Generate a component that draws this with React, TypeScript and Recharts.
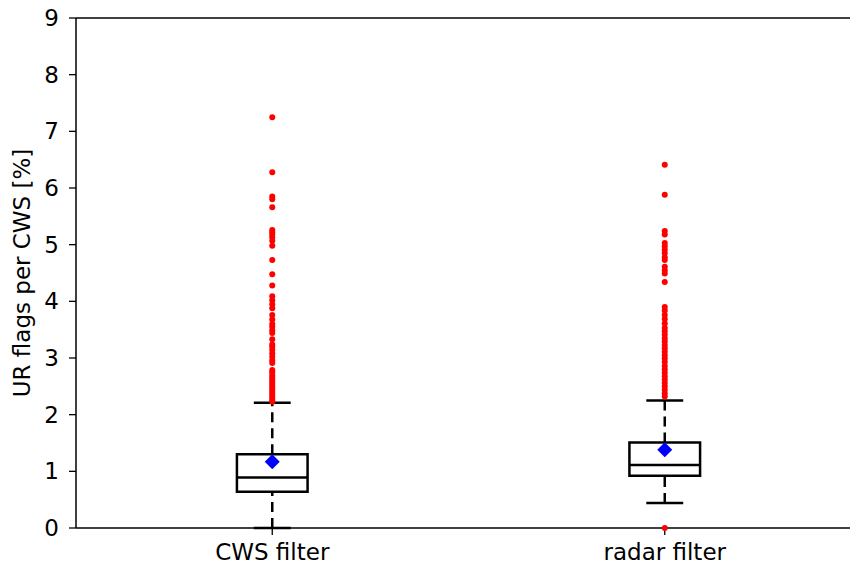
import {
  ComposedChart, XAxis, YAxis, Scatter, ReferenceArea, ReferenceLine,
} from 'recharts';

// box statistics per filter
const categories = ['CWS filter', 'radar filter'];
const positions = [1, 2];
const whiskerLow = [0, 0.44];
const q1 = [0.64, 0.92];
const medians = [0.89, 1.11];
const q3 = [1.3, 1.51];
const whiskerHigh = [2.21, 2.25];
const means = [1.17, 1.38];

const cwsOutliers = [
  7.25, 6.28, 5.85, 5.8, 5.66, 5.26, 5.22, 5.18, 5.13, 5.07, 4.98, 4.73, 4.48,
  4.28, 4.09, 4.02, 3.95, 3.88, 3.76, 3.68, 3.6, 3.55, 3.49, 3.44, 3.33, 3.24,
  3.2, 3.14, 3.08, 3.02, 2.96, 2.91, 2.79, 2.75, 2.7, 2.66, 2.62, 2.58, 2.54,
  2.5, 2.46, 2.42, 2.38, 2.34, 2.3, 2.26, 2.23,
];
const radarOutliers = [
  6.41, 5.88, 5.24, 5.18, 5.03, 4.97, 4.91, 4.85, 4.78, 4.73, 4.61, 4.55, 4.49,
  4.34, 3.9, 3.84, 3.76, 3.69, 3.61, 3.53, 3.47, 3.41, 3.35, 3.29, 3.23, 3.17,
  3.11, 3.05, 2.99, 2.93, 2.86, 2.8, 2.74, 2.68, 2.62, 2.56, 2.5, 2.44, 2.38,
  2.32, 0,
];

const yTicks = [0, 1, 2, 3, 4, 5, 6, 7, 8, 9];

const BOX_HALF = 0.09;
const CAP_HALF = 0.047;
const FONT = '"DejaVu Sans", sans-serif';
const FONT_SIZE = 23;

const outlierData = [
  ...cwsOutliers.map(y => ({ x: positions[0], y })),
  ...radarOutliers.map(y => ({ x: positions[1], y })),
];
const meanData = positions.map((x, i) => ({ x, y: means[i] }));

const RedDot = (p: any) => <circle cx={p.cx} cy={p.cy} r={3} fill="#ff0000" />;
const BlueDiamond = (p: any) => (
  <polygon
    points={`${p.cx},${p.cy - 7.5} ${p.cx + 7.5},${p.cy} ${p.cx},${p.cy + 7.5} ${p.cx - 7.5},${p.cy}`}
    fill="#0000ff"
  />
);

export default function App() {
  const line = { stroke: '#000', strokeWidth: 2.5 };
  return (
    <div style={{ position: 'fixed', left: 0, top: 0, width: 850, height: 565, overflow: 'hidden', background: '#fff' }}>
      <ComposedChart width={880} height={565} margin={{ top: 18, right: 19, left: 0, bottom: 0 }}>
        <XAxis
          dataKey="x"
          type="number"
          domain={[0.5, 2.5]}
          ticks={positions}
          tickFormatter={(v: number) => categories[positions.indexOf(v)] ?? ''}
          tick={{ fill: '#000', fontFamily: FONT, fontSize: FONT_SIZE }}
          axisLine={{ stroke: '#000', strokeWidth: 1.5 }}
          tickLine={{ stroke: '#000', strokeWidth: 1.3 }}
          tickSize={7}
          tickMargin={9}
          height={37}
          allowDataOverflow
        />
        <YAxis
          type="number"
          domain={[0, 9]}
          ticks={yTicks}
          interval={0}
          tick={{ fill: '#000', fontFamily: FONT, fontSize: FONT_SIZE }}
          axisLine={{ stroke: '#000', strokeWidth: 1.5 }}
          tickLine={{ stroke: '#000', strokeWidth: 1.3 }}
          tickSize={7}
          tickMargin={10}
          width={76}
          label={{
            value: 'UR flags per CWS [%]',
            angle: -90,
            position: 'insideLeft',
            offset: 22,
            style: { textAnchor: 'middle', fill: '#000', fontFamily: FONT, fontSize: FONT_SIZE },
          }}
        />

        {/* top spine */}
        <ReferenceLine y={9} stroke="#000" strokeWidth={1.5} />

        {positions.map((x, i) => (
          <g key={x}>
            <ReferenceLine
              segment={[{ x, y: whiskerLow[i] }, { x, y: q1[i] }]}
              {...line}
              strokeDasharray="10 6"
            />
            <ReferenceLine
              segment={[{ x, y: q3[i] }, { x, y: whiskerHigh[i] }]}
              {...line}
              strokeDasharray="10 6"
            />
            <ReferenceLine
              segment={[{ x: x - CAP_HALF, y: whiskerLow[i] }, { x: x + CAP_HALF, y: whiskerLow[i] }]}
              {...line}
            />
            <ReferenceLine
              segment={[{ x: x - CAP_HALF, y: whiskerHigh[i] }, { x: x + CAP_HALF, y: whiskerHigh[i] }]}
              {...line}
            />
            <ReferenceArea
              x1={x - BOX_HALF}
              x2={x + BOX_HALF}
              y1={q1[i]}
              y2={q3[i]}
              fill="none"
              {...line}
            />
            <ReferenceLine
              segment={[{ x: x - BOX_HALF, y: medians[i] }, { x: x + BOX_HALF, y: medians[i] }]}
              {...line}
            />
          </g>
        ))}

        <Scatter data={outlierData} dataKey="y" shape={RedDot} isAnimationActive={false} />
        <Scatter data={meanData} dataKey="y" shape={BlueDiamond} isAnimationActive={false} />
      </ComposedChart>
    </div>
  );
}
